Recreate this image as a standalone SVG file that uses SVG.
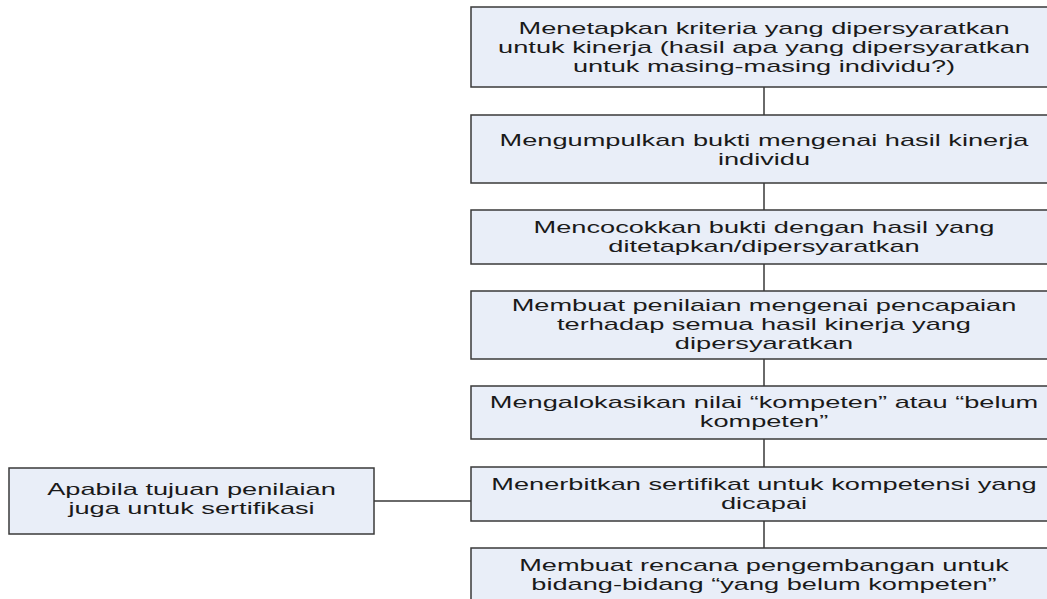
<svg xmlns="http://www.w3.org/2000/svg" width="1047" height="599" viewBox="0 0 1047 599">
<style>
.box{fill:#e9eef8;stroke:#3a3a3a;stroke-width:1.5}
.t{font-family:"Liberation Sans",Arial,sans-serif;font-size:16px;fill:#1a1a1a;text-anchor:middle}
.c{stroke:#6a6a6a;stroke-width:2;fill:none}
</style>
<rect width="1047" height="599" fill="#ffffff"/>
<g id="connectors">
<line class="c" x1="764" y1="87" x2="764" y2="115"/>
<line class="c" x1="764" y1="183" x2="764" y2="210"/>
<line class="c" x1="764" y1="264" x2="764" y2="291"/>
<line class="c" x1="764" y1="359" x2="764" y2="386"/>
<line class="c" x1="764" y1="439" x2="764" y2="467"/>
<line class="c" x1="764" y1="521" x2="764" y2="548"/>
<line class="c" x1="374" y1="501" x2="471" y2="501"/>
</g>
<g id="n1">
<rect class="box" x="471" y="7" width="600" height="80"/>
<g transform="translate(764,0) scale(1.7,1)">
<text class="t" x="0" y="34">Menetapkan kriteria yang dipersyaratkan</text>
<text class="t" x="0" y="53">untuk kinerja (hasil apa yang dipersyaratkan</text>
<text class="t" x="0" y="72">untuk masing-masing individu?)</text>
</g>
</g>
<g id="n2">
<rect class="box" x="471" y="115" width="600" height="68"/>
<g transform="translate(764,0) scale(1.7,1)">
<text class="t" x="0" y="146">Mengumpulkan bukti mengenai hasil kinerja</text>
<text class="t" x="0" y="165">individu</text>
</g>
</g>
<g id="n3">
<rect class="box" x="471" y="210" width="600" height="54"/>
<g transform="translate(764,0) scale(1.7,1)">
<text class="t" x="0" y="233">Mencocokkan bukti dengan hasil yang</text>
<text class="t" x="0" y="252">ditetapkan/dipersyaratkan</text>
</g>
</g>
<g id="n4">
<rect class="box" x="471" y="291" width="600" height="68"/>
<g transform="translate(764,0) scale(1.7,1)">
<text class="t" x="0" y="311">Membuat penilaian mengenai pencapaian</text>
<text class="t" x="0" y="330">terhadap semua hasil kinerja yang</text>
<text class="t" x="0" y="349">dipersyaratkan</text>
</g>
</g>
<g id="n5">
<rect class="box" x="471" y="386" width="600" height="53"/>
<g transform="translate(764,0) scale(1.7,1)">
<text class="t" x="0" y="408">Mengalokasikan nilai “kompeten” atau “belum</text>
<text class="t" x="0" y="427">kompeten”</text>
</g>
</g>
<g id="n6">
<rect class="box" x="471" y="467" width="600" height="54"/>
<g transform="translate(764,0) scale(1.7,1)">
<text class="t" x="0" y="490">Menerbitkan sertifikat untuk kompetensi yang</text>
<text class="t" x="0" y="509">dicapai</text>
</g>
</g>
<g id="n7">
<rect class="box" x="471" y="548" width="600" height="70"/>
<g transform="translate(764,0) scale(1.7,1)">
<text class="t" x="0" y="571">Membuat rencana pengembangan untuk</text>
<text class="t" x="0" y="590">bidang-bidang “yang belum kompeten”</text>
</g>
</g>
<g id="n8">
<rect class="box" x="9" y="468" width="365" height="66"/>
<g transform="translate(191.5,0) scale(1.7,1)">
<text class="t" x="0" y="495">Apabila tujuan penilaian</text>
<text class="t" x="0" y="514">juga untuk sertifikasi</text>
</g>
</g>
</svg>
